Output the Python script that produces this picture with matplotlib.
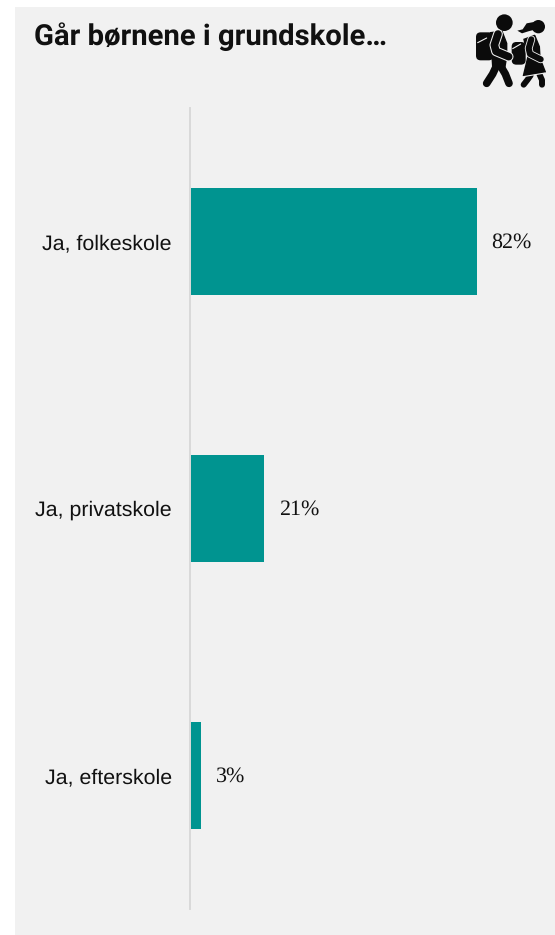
import matplotlib
matplotlib.use("Agg")
import matplotlib.pyplot as plt
from matplotlib.patches import Circle, FancyBboxPatch, Polygon, Rectangle

categories = ["Ja, folkeskole", "Ja, privatskole", "Ja, efterskole"]
values = [82, 21, 3]
title = "Går børnene i grundskole…"

W, H = 555, 935
PANEL = "#f1f1f1"
TEAL = "#009490"
INK = "#0b0b0b"

plt.rcParams["text.hinting"] = "no_hinting"

fig = plt.figure(figsize=(W / 100, H / 100), dpi=100, facecolor="white")


def px_axes(left, top, right, bottom):
    """Axes placed by pixel edges, measured from the top left corner."""
    return fig.add_axes([left / W, 1 - bottom / H, (right - left) / W, (bottom - top) / H])


# grey card behind everything
bg = fig.add_axes([0, 0, 1, 1], zorder=0)
bg.set_axis_off()
bg.set_xlim(0, W)
bg.set_ylim(H, 0)
bg.add_patch(Rectangle((15, 7), W - 15, H - 7, color=PANEL, lw=0))
bg.text(34.5, 37, title, family="Roboto", weight="bold", fontsize=21.1, color="#111111", va="center", ha="left")

# bars
ax = px_axes(191, 108, W, 909)
ax.set_zorder(1)
ax.patch.set_alpha(0)
# set_position resets the ticks, so it has to come before the tick setup
ax.spines["left"].set_position(("outward", 0.8))
ax.spines["left"].set_color("#d9d9d9")
ax.spines["left"].set_linewidth(1.4)
for side in ["top", "right", "bottom"]:
    ax.spines[side].set_visible(False)
y_pos = list(range(len(categories)))
ax.barh(y_pos, values, height=0.4, color=TEAL, zorder=2)
ax.set_xlim(0, (W - 191) / 3.488)
ax.set_ylim(2.5, -0.5)
ax.set_yticks(y_pos, categories, family="Liberation Sans", fontsize=15.4, color="#111111", va="center_baseline")
ax.set_xticks([])
ax.tick_params(axis="y", length=0, pad=13)
for y, v in zip(y_pos, values):
    ax.annotate(f"{v}%", (v, y), xytext=(10.5, -1), textcoords="offset points",
                family="Liberation Serif", fontsize=15.8, color="#111111", va="center", ha="left")

# school children icon, drawn on a 285 x 300 grid
icon = px_axes(460, 0, 555, 100)
icon.set_zorder(2)
icon.set_axis_off()
icon.set_xlim(0, 285)
icon.set_ylim(300, 0)


def stroke(xs, ys, width, color=INK):
    icon.plot(xs, ys, color=color, lw=width, solid_capstyle="round", solid_joinstyle="round")


def pack(x, y, w, h):
    icon.add_patch(FancyBboxPatch((x, y), w, h, boxstyle="round,pad=0,rounding_size=14", fc=INK, ec="none"))


# boy
icon.add_patch(Circle((133, 68), 25, fc=INK, ec="none"))
pack(48, 97, 52, 84)
icon.add_patch(Polygon([(92, 98), (126, 94), (140, 130), (140, 170), (134, 205), (98, 198)], fc=INK, ec=INK, lw=1))
stroke([112, 98, 80], [192, 222, 250], 5.5)
stroke([120, 136, 147], [195, 222, 250], 5.5)
stroke([114, 103, 108, 146], [102, 135, 154, 170], 7, PANEL)
stroke([114, 103, 108, 146], [102, 135, 154, 170], 5.5)
stroke([53, 80], [128, 114], 0.8, PANEL)

# girl
icon.add_patch(Circle((235, 80), 20, fc=INK, ec="none"))
icon.add_patch(Polygon([(222, 66), (200, 70), (188, 88), (172, 92), (186, 100), (205, 94), (220, 90)], fc=INK, ec="none"))
pack(155, 126, 42, 68)
icon.add_patch(Polygon([(192, 118), (224, 106), (238, 140), (240, 175), (256, 216), (190, 228), (204, 170)], fc=INK, ec=INK, lw=1))
stroke([212, 202, 191], [226, 240, 254], 4.3)
stroke([238, 246, 246], [222, 240, 254], 4.3)
stroke([190, 255], [230, 219], 0.8, PANEL)
stroke([214, 206, 210, 242], [118, 145, 162, 178], 5.6, PANEL)
stroke([214, 206, 210, 242], [118, 145, 162, 178], 4.4)
stroke([158, 182], [146, 132], 0.8, PANEL)

fig.savefig("out.png", dpi=100, facecolor="white")
